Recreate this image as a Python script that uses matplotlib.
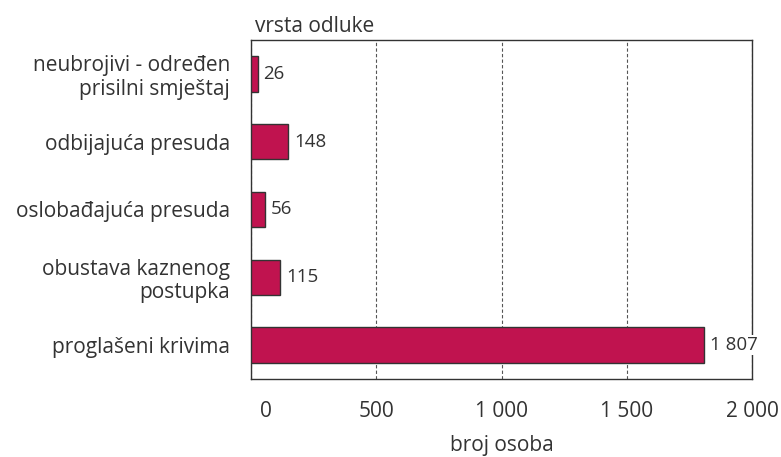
import matplotlib.pyplot as plt
from matplotlib.transforms import ScaledTranslation

plt.rcParams['font.family'] = ['Open Sans', 'DejaVu Sans']

kategorije = ['neubrojivi - određen\nprisilni smještaj', 'odbijajuća presuda',
              'oslobađajuća presuda', 'obustava kaznenog\npostupka', 'proglašeni krivima']
broj = [26, 148, 56, 115, 1807]
xtick_vals = [0, 500, 1000, 1500, 2000]
xtick_labels = ['0', '500', '1 000', '1 500', '2 000']


def fmt(v):
    return f'{v:,}'.replace(',', ' ')


fig = plt.figure(figsize=(7.81, 4.57), dpi=100)
ax = fig.add_axes([251 / 781, 1 - 379 / 457, 501 / 781, 339 / 457])

ypos = list(range(len(kategorije)))
ax.barh(ypos, broj, height=0.52, color='#C0134F', edgecolor='#333333', linewidth=1.0, zorder=3)
ax.set_ylim(len(kategorije) - 0.5, -0.5)
ax.set_xlim(0, 2000)

for y, v in zip(ypos, broj):
    ax.text(v + 24, y, fmt(v), va='center', ha='left', fontsize=13.5, color='#333333', zorder=4,
            bbox=dict(facecolor='white', edgecolor='none', pad=1))

ax.set_yticks(ypos)
ax.set_yticklabels(kategorije, fontsize=15, color='#333333', ha='right', linespacing=1.15)
ax.set_xticks(xtick_vals)
ax.set_xticklabels(xtick_labels, fontsize=15, color='#333333')
ax.tick_params(axis='both', length=0)
ax.tick_params(axis='y', pad=15)
ax.tick_params(axis='x', pad=16)

# nula je malo pomaknuta udesno
lbl0 = ax.get_xticklabels()[0]
lbl0.set_transform(lbl0.get_transform() + ScaledTranslation(0.15, 0, fig.dpi_scale_trans))

ax.grid(axis='x', linestyle=(0, (3, 2)), color='#555555', linewidth=0.8, zorder=0)
for s in ax.spines.values():
    s.set_color('#333333')
    s.set_linewidth(1.0)

ax.set_xlabel('broj osoba', fontsize=15, color='#333333', labelpad=9)
ax.set_title('vrsta odluke', fontsize=15, color='#333333', loc='left', pad=6, x=0.008)

fig.savefig('out.png', dpi=100)
